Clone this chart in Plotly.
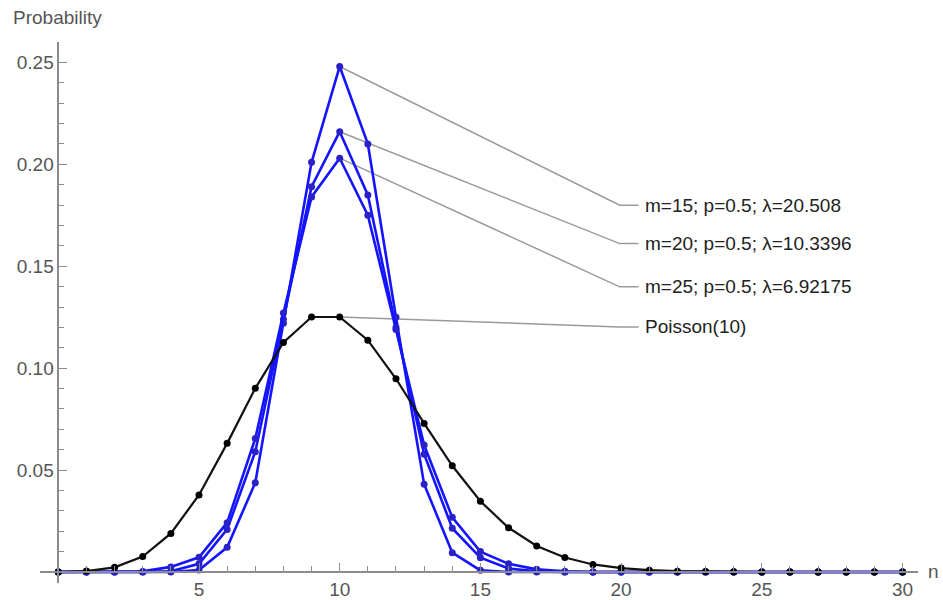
import plotly.graph_objects as go

# Support of the distributions
n_vals = list(range(31))

# Probability mass functions
p_m15 = [0, 0, 0, 0, 0, 0.0010, 0.0121, 0.0438, 0.122, 0.201, 0.248, 0.210, 0.125,
         0.0431, 0.0095, 0.0008, 0, 0, 0, 0, 0, 0, 0, 0, 0, 0, 0, 0, 0, 0, 0]
p_m20 = [0, 0, 0, 0, 0.0004, 0.0040, 0.0209, 0.059, 0.124, 0.189, 0.216, 0.185, 0.120,
         0.0578, 0.0215, 0.0070, 0.0017, 0.0003, 0, 0, 0, 0, 0, 0, 0, 0, 0, 0, 0, 0, 0]
p_m25 = [0, 0, 0, 0.0003, 0.0025, 0.0072, 0.0242, 0.0655, 0.127, 0.184, 0.203, 0.175, 0.119,
         0.0623, 0.0268, 0.0100, 0.0040, 0.0013, 0.0004, 0, 0, 0, 0, 0, 0, 0, 0, 0, 0, 0, 0]
p_poisson = [0.00005, 0.00045, 0.00227, 0.00757, 0.0189, 0.0378, 0.0631, 0.0901, 0.1126,
             0.1251, 0.1251, 0.1137, 0.0948, 0.0729, 0.0521, 0.0347, 0.0217, 0.0128,
             0.0071, 0.0037, 0.0019, 0.0009, 0.0004, 0.0002, 0.0001, 0, 0, 0, 0, 0, 0]

series_labels = ["m=15; p=0.5; \u03bb=20.508",
                 "m=20; p=0.5; \u03bb=10.3396",
                 "m=25; p=0.5; \u03bb=6.92175",
                 "Poisson(10)"]
series_values = [p_m15, p_m20, p_m25, p_poisson]
label_y = [0.1799, 0.1611, 0.1399, 0.1202]

x_ticks = [5, 10, 15, 20, 25, 30]
y_ticks = [0.05, 0.10, 0.15, 0.20, 0.25]
y_tick_text = ["0.05", "0.10", "0.15", "0.20", "0.25"]

XMIN, XMAX = -0.65, 30.55
YMIN, YMAX = -0.0054, 0.26

W, H = 943, 600
ML, MR, MT, MB = 40, 25, 42, 17

FONT = "Liberation Sans, Arial, sans-serif"
TXT = "#555555"
AX = "#8c8c8c"
FS = 19

fig = go.Figure()

blue_line = "#1414ff"
blue_mark = "#2a22c8"
for vals in series_values[:3]:
    fig.add_trace(go.Scatter(
        x=n_vals, y=vals, mode="lines+markers",
        line=dict(color=blue_line, width=2.6),
        marker=dict(color=blue_mark, size=7),
        cliponaxis=False, showlegend=False, hoverinfo="skip"))

fig.add_trace(go.Scatter(
    x=n_vals, y=p_poisson, mode="lines+markers",
    line=dict(color="#111111", width=2.2),
    marker=dict(color="#000000", size=7),
    cliponaxis=False, showlegend=False, hoverinfo="skip"))

# Callout leaders from each peak to its label
peak_n = 10
elbow_x, end_x, text_x = 19.95, 20.62, 20.78
for vals, ly, lab in zip(series_values, label_y, series_labels):
    py = vals[peak_n]
    fig.add_shape(type="path",
                  path=f"M {peak_n} {py} L {elbow_x} {ly} L {end_x} {ly}",
                  xref="x", yref="y", line=dict(color="#9a9a9a", width=1.5),
                  layer="below")
    fig.add_annotation(x=text_x, y=ly, xref="x", yref="y", text=lab,
                       showarrow=False, xanchor="left", yanchor="middle",
                       font=dict(family=FONT, size=FS, color="#222222"))

# Vertical axis title, top-left above the axis
pw, ph = W - ML - MR, H - MT - MB
fig.add_annotation(x=(11 - ML) / pw, y=1 + (MT - 17) / ph,
                   xref="paper", yref="paper", text="Probability",
                   showarrow=False, xanchor="left", yanchor="middle",
                   font=dict(family=FONT, size=FS, color=TXT))

fig.update_layout(
    width=W, height=H,
    margin=dict(l=ML, r=MR, t=MT, b=MB, autoexpand=False),
    paper_bgcolor="white", plot_bgcolor="white",
    xaxis=dict(
        range=[XMIN, XMAX], domain=[0, 1], anchor="free",
        position=(0 - YMIN) / (YMAX - YMIN),
        showgrid=False, zeroline=False, showline=True,
        linecolor=AX, linewidth=1.5,
        tickmode="array", tickvals=x_ticks,
        ticks="inside", ticklen=8, tickwidth=1.2, tickcolor=AX,
        minor=dict(dtick=1, tick0=0, ticks="inside", ticklen=5,
                   tickwidth=1, tickcolor=AX, showgrid=False),
        tickfont=dict(family=FONT, size=FS, color=TXT),
        automargin=False,
    ),
    yaxis=dict(
        range=[YMIN, YMAX], domain=[0, 1], anchor="free",
        position=(0 - XMIN) / (XMAX - XMIN),
        showgrid=False, zeroline=False, showline=True,
        linecolor=AX, linewidth=1.5,
        tickmode="array", tickvals=y_ticks, ticktext=y_tick_text,
        ticks="inside", ticklen=8, tickwidth=1.2, tickcolor=AX,
        minor=dict(dtick=0.01, tick0=0, ticks="inside", ticklen=5,
                   tickwidth=1, tickcolor=AX, showgrid=False),
        tickfont=dict(family=FONT, size=FS, color=TXT),
        automargin=False,
    ),
)

# Axis variable name at the end of the horizontal axis
fig.add_annotation(x=XMAX, y=0, xref="x", yref="y", text="n", showarrow=False,
                   xanchor="left", yanchor="middle", xshift=8,
                   font=dict(family=FONT, size=FS, color=TXT))

fig.write_html("out.html")
